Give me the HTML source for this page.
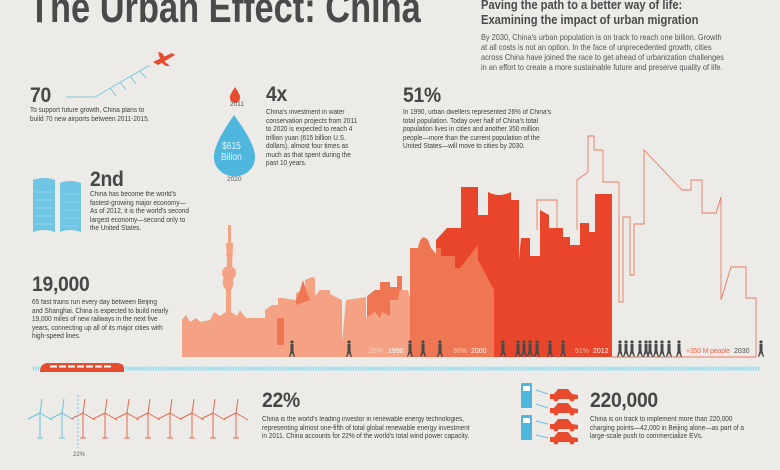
<!DOCTYPE html>
<html><head><meta charset="utf-8"><style>
body{margin:0;width:780px;height:470px;overflow:hidden;background:#ecebe7;font-family:"Liberation Sans",sans-serif;color:#4a4a4a;position:relative}
.a{position:absolute;white-space:nowrap;transform-origin:0 0}
.big{font-weight:bold;font-size:21px;color:#474747;letter-spacing:-0.3px;transform:scaleX(.92)}
.t{font-size:7px;line-height:8.5px;color:#3e3e3e;transform:scaleX(.92)}
</style></head><body>
<div class="a" style="left:29px;top:-16px;font-size:43px;font-weight:bold;color:#4a4a4a;transform:scaleX(.80)">The Urban Effect: China</div>
<div class="a" style="left:481px;top:-3px;font-size:13px;line-height:15px;font-weight:bold;color:#4a4a4a;transform:scaleX(.86)">Paving the path to a better way of life:<br>Examining the impact of urban migration</div>
<div class="a" style="left:481px;top:32px;font-size:8.5px;line-height:10px;color:#555;transform:scaleX(.87)">By 2030, China's urban population is on track to reach one billion. Growth<br>at all costs is not an option. In the face of unprecedented growth, cities<br>across China have joined the race to get ahead of urbanization challenges<br>in an effort to create a more sustainable future and preserve quality of life.</div>

<svg class="a" style="left:0;top:0" width="780" height="470">
<defs>
<g id="p"><circle cx="0" cy="-15" r="1.6"/><rect x="-1.5" y="-13" width="3" height="7"/><path d="M-1.5,-6 L-3,0 L-2,0 L0,-4 L2,0 L3,0 L1.5,-6Z"/></g>
<g id="tb" fill="none" stroke-width="1"><line x1="0" y1="0" x2="0" y2="25"/><line x1="-3" y1="25" x2="3" y2="25"/><path d="M0,0 L2,-14 M0,0 L12,7 M0,0 L-12,6"/></g>
<g id="car"><path d="M0,3 L4,3 L8,-2 L18,-2 L22,3 L28,4 L28,8 L0,8Z"/><circle cx="6" cy="8" r="2.5"/><circle cx="22" cy="8" r="2.5"/></g>
</defs>
<polyline points="66,97 95,97 150,65" fill="none" stroke="#7ccbe0" stroke-width="1"/>
<g stroke="#7ccbe0" stroke-width="1"><line x1="110" y1="88" x2="116" y2="96"/><line x1="120" y1="82" x2="126" y2="90"/><line x1="130" y1="76" x2="136" y2="84"/><line x1="140" y1="71" x2="146" y2="78"/></g>
<path d="M153,62 L172,53 L175,55 L158,65 Z M160,59 L158,52 L162,53 L166,59 Z M164,61 L170,66 L166,66 L160,62 Z" fill="#e84a2e"/>
<path d="M235,87 Q229,96 230,98 A5,5 0 0 0 240,98 Q241,96 235,87Z" fill="#e84a2e"/>
<path d="M234,115 Q213,145 214,158 A20,18 0 0 0 255,158 Q256,145 234,115Z" fill="#4fb7de"/>
<g fill="#6fc6e4"><path d="M33,180 Q44,176 55,180 L55,232 Q44,228 33,232Z"/><path d="M60,183 Q70,179 81,183 L81,232 Q70,228 60,232Z"/></g>
<g stroke="#b8e2f0" stroke-width="0.5"><line x1="35" y1="192" x2="53" y2="192"/><line x1="35" y1="200" x2="53" y2="200"/><line x1="35" y1="208" x2="53" y2="208"/><line x1="35" y1="216" x2="53" y2="216"/><line x1="35" y1="224" x2="53" y2="224"/><line x1="62" y1="194" x2="79" y2="194"/><line x1="62" y1="202" x2="79" y2="202"/><line x1="62" y1="210" x2="79" y2="210"/><line x1="62" y1="218" x2="79" y2="218"/><line x1="62" y1="226" x2="79" y2="226"/></g>
<path d="M537,230 L537,200 L557,200 L557,230 M577,230 L577,180 L588,172 L588,136 L594,136 L594,150 L603,150 L603,182 L619,182 L619,302 L623,302 L623,217 L630,217 L630,275 L634,275 L634,224 L644,224 L644,150 L682,190 L691,190 L691,180 L702,180 L702,213 L716,213 L721,197 L721,300 L731,267 L746,267 L746,298 L756,298 L756,357 L612,357" fill="none" stroke="#ea7a62" stroke-width="0.9"/>
<path d="M436,357 L436,240 L447,228 L461,228 L461,187 L478,187 L478,215 L488,215 L488,192 Q499,198 511,192 L511,200 L519,200 L519,260 L521,238 L530,238 L530,256 L540,256 L540,210 L549,215 L549,228 L563,228 L563,237 L570,237 L570,245 L580,245 L580,223 L589,223 L589,232 L595,232 L595,194 L612,194 L612,357 Z" fill="#e9452b"/>
<path d="M367,357 L367,296 L375,290 L380,290 L380,282 L390,282 L390,287 L397,287 L397,276 L402,276 L402,297 L410,297 L410,248 L418,248 Q421,232 428,240 L431,248 L436,254 L436,248 L441,248 L441,256 L455,256 L455,268 L460,268 L478,245 L478,260 L494,290 L494,357 Z" fill="#ef7652"/>
<path d="M182,357 L182,320 L186,315 L190,322 L196,318 L200,322 L210,320 L214,312 L220,316 L226,312 L226,290 Q222,286 223,279 Q228,272 233,279 Q234,286 231,290 L231,312 L237,316 L240,310 L246,318 L265,318 L265,310 L272,305 L278,305 L278,298 L282,298 L296,300 L296,293 L305,290 L305,280 L312,277 L315,278 L315,296 L320,290 L330,290 L330,294 L342,300 L342,342 L346,300 L366,297 L366,318 L375,312 L380,318 L382,312 L390,316 L390,300 L398,300 L400,290 L408,290 L410,300 L410,357 Z" fill="#f4a283"/>
<path d="M228,312 L228,255 L227,244 L229,244 L229,226 L230,226 L230,244 L232,244 L231,270" fill="#f4a283" stroke="#f4a283" stroke-width="2"/>
<circle cx="229" cy="273" r="7" fill="#f4a283"/><circle cx="229" cy="255" r="3" fill="#f4a283"/>
<path d="M296,305 L296,300 L300,290 L303,280 L306,290 L310,300 Z" fill="#ef7652"/>
<rect x="277" y="318" width="7" height="27" fill="#ef7652"/>
<g fill="#4a4a4a">
<use href="#p" x="292" y="357"/><use href="#p" x="349" y="357"/><use href="#p" x="410" y="357"/><use href="#p" x="423" y="357"/><use href="#p" x="440" y="357"/>
<use href="#p" x="503" y="357"/><use href="#p" x="518" y="357"/><use href="#p" x="524" y="357"/><use href="#p" x="530" y="357"/><use href="#p" x="537" y="357"/><use href="#p" x="550" y="357"/><use href="#p" x="563" y="357"/>
<use href="#p" x="620" y="357"/><use href="#p" x="626" y="357"/><use href="#p" x="632" y="357"/><use href="#p" x="640" y="357"/><use href="#p" x="646" y="357"/><use href="#p" x="650" y="357"/><use href="#p" x="656" y="357"/><use href="#p" x="662" y="357"/><use href="#p" x="669" y="357"/><use href="#p" x="679" y="357"/><use href="#p" x="761" y="357"/>
</g>
<g font-size="7" font-family="Liberation Sans,sans-serif">
<text x="369" y="353" fill="#f8d3c2">26%</text><text x="388" y="353" fill="#fff">1990</text>
<text x="453" y="353" fill="#f8c8b4">36%</text><text x="471" y="353" fill="#fff">2000</text>
<text x="575" y="353" fill="#f8b8a6">51%</text><text x="593" y="353" fill="#fff">2012</text>
<text x="686" y="353" fill="#ea6a50" textLength="44">+350 M people</text><text x="734" y="353" fill="#4a4a4a">2030</text>
</g>
<rect x="33" y="366" width="727" height="5" fill="#cde9f0"/>
<line x1="33" y1="368.5" x2="760" y2="368.5" stroke="#8fd0e3" stroke-width="3" stroke-dasharray="1 1.5"/>
<path d="M47,363 L118,363 Q124,364 124,368 L124,372 L40,372 Q40,364 47,363Z" fill="#e84a2e"/>
<g fill="#fff"><rect x="50" y="365.5" width="7" height="2"/><rect x="59" y="365.5" width="7" height="2"/><rect x="68" y="365.5" width="7" height="2"/><rect x="77" y="365.5" width="7" height="2"/><rect x="86" y="365.5" width="7" height="2"/><rect x="95" y="365.5" width="7" height="2"/><rect x="104" y="365.5" width="7" height="2"/></g>
<g stroke="#67c3df"><use href="#tb" x="40" y="413"/><use href="#tb" x="62" y="413"/></g>
<g stroke="#e86a50"><use href="#tb" x="83" y="413"/><use href="#tb" x="105" y="413"/><use href="#tb" x="127" y="413"/><use href="#tb" x="148" y="413"/><use href="#tb" x="170" y="413"/><use href="#tb" x="192" y="413"/><use href="#tb" x="213" y="413"/><use href="#tb" x="236" y="413"/></g>
<line x1="78" y1="395" x2="78" y2="448" stroke="#67c3df" stroke-dasharray="2 2"/>
<text x="73" y="456" font-size="6" fill="#666">22%</text>
<g fill="#4fb7de"><rect x="521" y="383" width="11" height="25" rx="1"/><rect x="521" y="415" width="11" height="25" rx="1"/></g>
<g fill="#fff"><rect x="523" y="386" width="7" height="5"/><rect x="523" y="418" width="7" height="5"/></g>
<g fill="#e84a2e"><use href="#car" x="550" y="391"/><use href="#car" x="550" y="405"/><use href="#car" x="550" y="421"/><use href="#car" x="550" y="434"/></g>
<g stroke="#67c3df" fill="none"><path d="M536,390 L548,394"/><path d="M536,404 L548,408"/><path d="M536,421 L548,424"/><path d="M536,435 L548,438"/></g>
</svg>
<div class="a" style="left:230px;top:101px;font-size:6.5px;color:#555">2011</div>
<div class="a" style="left:217px;top:141px;width:34px;text-align:center;font-size:10px;line-height:11px;color:#e6f4fa;transform:scaleX(.85)">$615<br>Bilion</div>
<div class="a" style="left:227px;top:176px;font-size:6.5px;color:#555">2020</div>

<div class="a big" style="left:30px;top:84px">70</div>
<div class="a t" style="left:30px;top:107px">To support future growth, China plans to<br>build 70 new airports between 2011-2015.</div>
<div class="a big" style="left:266px;top:83px">4x</div>
<div class="a t" style="left:266px;top:109px">China's investment in water<br>conservation projects from 2011<br>to 2020 is expected to reach 4<br>trillion yuan (615 billion U.S.<br>dollars), almost four times as<br>much as that spent during the<br>past 10 years.</div>
<div class="a big" style="left:403px;top:84px">51%</div>
<div class="a t" style="left:403px;top:109px">In 1990, urban dwellers represented 26% of China's<br>total population. Today over half of China's total<br>population lives in cities and another 350 million<br>people—more than the current population of the<br>United States—will move to cities by 2030.</div>
<div class="a big" style="left:90px;top:168px">2nd</div>
<div class="a t" style="left:90px;top:191px">China has become the world's<br>fastest-growing major economy—<br>As of 2012, it is the world's second<br>largest economy—second only to<br>the United States.</div>
<div class="a big" style="left:32px;top:273px">19,000</div>
<div class="a t" style="left:32px;top:299px">65 fast trains run every day between Beijing<br>and Shanghai. China is expected to build nearly<br>19,000 miles of new railways in the next five<br>years, connecting up all of its major cities with<br>high-speed lines.</div>
<div class="a big" style="left:262px;top:389px">22%</div>
<div class="a t" style="left:262px;top:416px">China is the world's leading investor in renewable energy technologies,<br>representing almost one-fifth of total global renewable energy investment<br>in 2011. China accounts for 22% of the world's total wind power capacity.</div>
<div class="a big" style="left:590px;top:389px">220,000</div>
<div class="a t" style="left:590px;top:416px">China is on track to implement more than 220,000<br>charging points—42,000 in Beijing alone—as part of a<br>large-scale push to commercialize EVs.</div>
</body></html>
